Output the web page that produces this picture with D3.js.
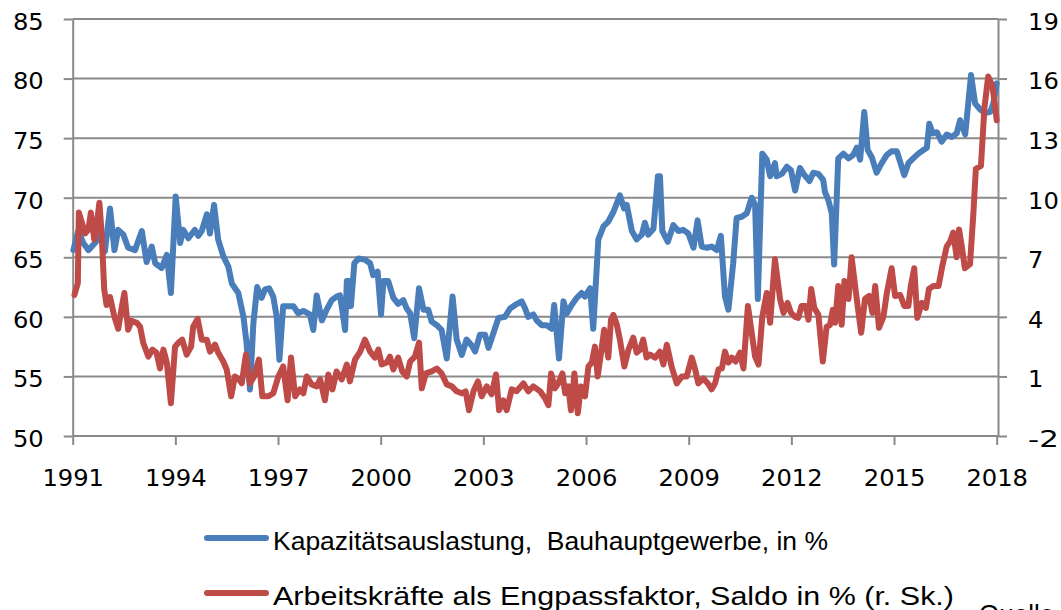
<!DOCTYPE html>
<html>
<head>
<meta charset="utf-8">
<script src="https://cdn.jsdelivr.net/npm/d3@7"></script>
<style>
  body { margin: 0; background: #fff; }
</style>
</head>
<body>
<script>
// Kapazitätsauslastung, Bauhauptgewerbe (left scale, %)
var blueYears = [1991.02,1991.16,1991.31,1991.46,1991.65,1991.80,1991.94,1992.09,1992.22,1992.33,1992.48,1992.62,1992.82,1993.02,1993.16,1993.31,1993.41,1993.60,1993.75,1993.87,1994.01,1994.14,1994.23,1994.38,1994.57,1994.67,1994.77,1994.92,1995.01,1995.13,1995.25,1995.40,1995.55,1995.65,1995.84,1995.99,1996.08,1996.18,1996.28,1996.39,1996.52,1996.62,1996.74,1996.86,1996.96,1997.04,1997.15,1997.30,1997.45,1997.59,1997.74,1997.93,1998.03,1998.13,1998.28,1998.42,1998.57,1998.71,1998.81,1998.86,1998.96,1999.01,1999.07,1999.13,1999.23,1999.35,1999.54,1999.69,1999.78,1999.91,2000.01,2000.08,2000.22,2000.37,2000.51,2000.66,2000.76,2000.86,2000.98,2001.12,2001.25,2001.39,2001.49,2001.64,2001.78,2001.93,2002.10,2002.22,2002.37,2002.51,2002.66,2002.76,2002.90,2003.05,2003.15,2003.29,2003.44,2003.63,2003.78,2003.93,2004.12,2004.22,2004.31,2004.46,2004.56,2004.71,2004.85,2005.00,2005.07,2005.21,2005.34,2005.44,2005.58,2005.73,2005.87,2005.97,2006.12,2006.21,2006.36,2006.51,2006.65,2006.80,2006.99,2007.11,2007.19,2007.34,2007.48,2007.63,2007.72,2007.82,2007.97,2008.10,2008.16,2008.23,2008.39,2008.55,2008.70,2008.84,2008.99,2009.14,2009.26,2009.38,2009.53,2009.67,2009.82,2009.94,2010.06,2010.16,2010.30,2010.40,2010.55,2010.70,2010.84,2010.94,2011.02,2011.15,2011.28,2011.38,2011.52,2011.57,2011.72,2011.87,2011.99,2012.11,2012.25,2012.38,2012.53,2012.64,2012.79,2012.93,2012.98,2013.08,2013.18,2013.25,2013.37,2013.52,2013.67,2013.81,2013.91,2014.01,2014.13,2014.23,2014.35,2014.49,2014.64,2014.79,2014.93,2015.08,2015.18,2015.30,2015.42,2015.56,2015.71,2015.86,2015.96,2016.03,2016.13,2016.25,2016.39,2016.54,2016.69,2016.83,2016.93,2017.08,2017.25,2017.37,2017.52,2017.66,2017.81,2017.90,2018.00];
var blueValues = [65.6,67.2,66.2,65.6,66.2,66.8,65.5,69.1,65.6,67.3,66.9,65.8,65.6,67.2,64.6,65.9,64.5,64.1,65.2,62.0,70.1,66.2,67.3,66.6,67.3,66.8,67.2,68.6,67.0,69.4,66.5,65.1,64.2,62.8,62.0,60.0,57.8,53.9,59.5,62.5,61.6,62.3,62.4,61.7,60.0,56.4,60.9,60.9,60.9,60.3,60.5,60.2,58.9,61.8,59.7,60.6,61.4,61.7,61.8,60.9,58.9,63.0,63.0,60.9,64.5,64.9,64.8,64.5,63.5,63.8,60.2,63.0,63.0,61.6,61.1,61.4,60.7,60.3,58.2,62.4,60.6,60.6,59.6,59.3,58.9,56.5,61.7,58.1,56.8,58.1,57.6,57.1,58.5,58.5,57.4,58.6,59.9,60.0,60.7,61.0,61.3,60.7,60.0,60.2,59.7,59.3,59.3,59.0,61.0,56.5,61.3,60.3,61.0,61.6,62.0,61.7,62.4,59.0,66.5,67.6,68.0,68.8,70.2,69.1,69.4,67.2,66.5,66.9,67.9,66.9,67.4,71.8,71.8,67.2,66.3,67.7,67.2,67.3,67.0,65.8,68.1,65.9,65.8,65.9,65.6,66.8,61.7,60.6,64.5,68.3,68.4,68.7,70.0,69.4,61.5,73.7,73.2,71.8,72.9,71.8,72.0,72.6,72.3,70.6,72.5,71.9,71.4,72.1,72.0,71.5,70.5,69.8,68.7,64.4,73.3,73.7,73.3,73.6,74.2,73.2,77.2,74.0,73.4,72.1,72.9,73.6,73.9,73.9,73.0,71.9,72.9,73.3,73.7,74.0,74.2,76.2,75.4,75.5,74.7,75.3,75.1,75.4,76.5,75.3,80.3,77.9,77.4,77.1,77.2,77.9,79.6];

// Arbeitskräfte als Engpassfaktor, Saldo (right scale, %)
var redYears = [1991.05,1991.15,1991.18,1991.26,1991.36,1991.46,1991.53,1991.63,1991.70,1991.78,1991.85,1991.92,1991.99,1992.09,1992.22,1992.33,1992.43,1992.51,1992.62,1992.72,1992.87,1992.97,1993.06,1993.21,1993.33,1993.45,1993.55,1993.65,1993.75,1993.87,1993.99,1994.09,1994.20,1994.33,1994.46,1994.52,1994.65,1994.77,1994.92,1995.01,1995.16,1995.25,1995.40,1995.50,1995.63,1995.74,1995.86,1995.94,1996.06,1996.18,1996.30,1996.44,1996.54,1996.72,1996.86,1997.01,1997.15,1997.28,1997.38,1997.50,1997.64,1997.74,1997.84,1997.98,1998.13,1998.23,1998.37,1998.47,1998.59,1998.71,1998.86,1999.01,1999.10,1999.25,1999.40,1999.54,1999.69,1999.83,1999.93,2000.03,2000.18,2000.27,2000.37,2000.51,2000.63,2000.76,2000.86,2001.00,2001.12,2001.20,2001.32,2001.49,2001.64,2001.78,2001.93,2002.08,2002.22,2002.37,2002.48,2002.58,2002.71,2002.84,2002.95,2003.10,2003.24,2003.37,2003.46,2003.58,2003.68,2003.83,2003.97,2004.17,2004.31,2004.46,2004.66,2004.80,2004.90,2004.98,2005.09,2005.19,2005.31,2005.39,2005.48,2005.56,2005.66,2005.76,2005.85,2005.97,2006.07,2006.17,2006.26,2006.34,2006.44,2006.53,2006.65,2006.73,2006.80,2006.90,2006.99,2007.12,2007.24,2007.38,2007.48,2007.58,2007.67,2007.77,2007.87,2008.02,2008.16,2008.26,2008.36,2008.50,2008.65,2008.80,2008.94,2009.09,2009.19,2009.28,2009.43,2009.56,2009.67,2009.77,2009.87,2009.97,2010.06,2010.16,2010.26,2010.37,2010.50,2010.60,2010.73,2010.84,2010.94,2011.04,2011.15,2011.28,2011.38,2011.52,2011.67,2011.77,2011.89,2011.99,2012.11,2012.20,2012.30,2012.42,2012.50,2012.58,2012.67,2012.79,2012.92,2013.03,2013.13,2013.21,2013.28,2013.37,2013.47,2013.55,2013.67,2013.76,2013.91,2014.04,2014.15,2014.27,2014.37,2014.45,2014.56,2014.69,2014.79,2014.93,2015.03,2015.18,2015.30,2015.42,2015.49,2015.59,2015.68,2015.81,2015.93,2016.02,2016.15,2016.30,2016.41,2016.54,2016.64,2016.73,2016.83,2016.90,2016.98,2017.07,2017.22,2017.32,2017.39,2017.54,2017.64,2017.75,2017.87,2017.94,2018.00];
var redValues = [5.1,5.7,9.25,8.8,8.2,8.4,9.25,7.9,8.6,9.75,8.1,5.4,4.6,5.0,4.0,3.4,4.45,5.2,3.35,3.8,3.7,3.5,2.7,2.0,2.35,2.2,1.4,2.35,1.7,-0.35,2.5,2.7,2.85,2.1,2.5,3.5,3.9,2.85,2.85,2.25,2.6,2.2,1.75,1.35,0.0,1.0,0.85,0.65,2.1,0.65,1.0,1.85,0.0,0.0,0.15,1.0,1.5,-0.2,1.95,0.0,0.35,0.15,1.0,0.6,0.5,0.85,-0.2,1.1,0.35,1.25,0.85,1.6,0.75,1.85,2.25,2.85,2.25,1.95,2.35,1.6,1.7,2.0,1.35,1.95,1.25,1.0,1.75,2.0,2.7,0.4,1.15,1.25,1.4,1.15,0.6,0.5,0.25,0.15,0.25,-0.7,0.25,0.75,0.0,0.5,0.1,1.1,-0.7,-0.2,-0.7,0.35,0.25,0.65,0.25,0.5,0.25,-0.1,-0.45,1.15,0.4,0.65,1.15,0.15,0.5,-0.7,1.15,-0.85,0.5,0.0,1.5,1.7,2.5,1.0,2.2,3.35,1.95,3.85,4.1,3.6,2.85,1.5,2.35,2.95,2.2,2.35,2.85,1.95,2.1,1.95,2.25,1.6,2.6,1.5,0.65,1.0,1.0,1.95,1.35,0.65,0.9,0.65,0.35,0.65,1.35,1.4,2.25,1.7,1.95,1.75,2.2,1.4,4.55,3.2,2.0,1.6,4.0,5.2,3.7,6.9,4.9,4.2,4.7,4.2,4.0,3.95,4.55,4.55,3.85,5.4,4.45,4.1,1.75,3.5,3.6,4.35,3.7,5.55,3.6,5.8,4.9,7.0,4.9,3.2,4.9,5.05,4.2,5.55,3.45,4.0,5.2,6.45,5.05,5.1,4.55,4.55,5.55,6.45,3.95,4.7,4.45,5.4,5.55,5.55,6.55,7.55,7.8,8.25,7.0,8.4,7.55,6.45,6.65,9.25,11.45,11.6,14.5,16.1,15.65,14.8,13.9];

// tick labels
var leftTicks = [50, 55, 60, 65, 70, 75, 80, 85];
var rightTicks = [-2, 1, 4, 7, 10, 13, 16, 19];
var yearTicks = [1991, 1994, 1997, 2000, 2003, 2006, 2009, 2012, 2015, 2018];

var legendLabels = ["Kapazitätsauslastung,  Bauhauptgewerbe, in %",
                    "Arbeitskräfte als Engpassfaktor, Saldo in % (r. Sk.)"];
var colors = ["#4a7ebb", "#be4b48"];

var width = 1061, height = 610;
var plot = {left: 72.7, right: 998, top: 19, bottom: 436};

var svg = d3.select("body")
  .append("svg")
  .attr("width", width)
  .attr("height", height)
  .style("display", "block");

svg.append("rect").attr("width", width).attr("height", height).attr("fill", "#fff");

var x = d3.scaleLinear().domain([1991, 2018]).range([plot.left, 996.7]);
var yL = d3.scaleLinear().domain([50, 85]).range([plot.bottom, plot.top]);
var yR = d3.scaleLinear().domain([-2, 19]).range([plot.bottom, plot.top]);

var gridColor = "#8a8a8a";
var tickFont = "'DejaVu Sans', sans-serif";

// horizontal grid
svg.append("g")
  .selectAll("line")
  .data(leftTicks)
  .join("line")
  .attr("x1", plot.left)
  .attr("x2", plot.right)
  .attr("y1", d => yL(d))
  .attr("y2", d => yL(d))
  .attr("stroke", gridColor)
  .attr("stroke-width", 2);

// axes
function styleAxis(g) {
  g.attr("font-family", tickFont).attr("font-size", 23);
  g.selectAll("line").attr("stroke", gridColor).attr("stroke-width", 2);
  g.select(".domain").attr("stroke", gridColor).attr("stroke-width", 2);
  g.selectAll("text").attr("fill", "#000")
    .attr("textLength", function () { return this.textContent.length * 15.4; })
    .attr("lengthAdjust", "spacingAndGlyphs");
}

var plain = d => String(d);

var axL = svg.append("g")
  .attr("transform", "translate(" + plot.left + ",0)")
  .call(d3.axisLeft(yL).tickValues(leftTicks).tickFormat(plain).tickSize(9).tickSizeOuter(0).tickPadding(20))
  .call(styleAxis);
axL.selectAll("text").attr("dy", "0.45em");

var axR = svg.append("g")
  .attr("transform", "translate(" + plot.right + ",0)")
  .call(d3.axisRight(yR).tickValues(rightTicks).tickFormat(plain).tickSize(9).tickSizeOuter(0).tickPadding(21))
  .call(styleAxis);
axR.selectAll("text").attr("dy", "0.45em");

var axB = svg.append("g")
  .attr("transform", "translate(0," + plot.bottom + ")")
  .call(d3.axisBottom(x).tickValues(yearTicks).tickFormat(plain).tickSize(9).tickSizeOuter(0).tickPadding(25))
  .call(styleAxis);
axB.select(".domain").remove();

// series
var line = function (yScale) {
  return d3.line()
    .x(d => x(d[0]))
    .y(d => yScale(d[1]));
};

svg.append("path")
  .datum(d3.zip(blueYears, blueValues))
  .attr("fill", "none")
  .attr("stroke", colors[0])
  .attr("stroke-width", 6)
  .attr("stroke-linejoin", "round")
  .attr("stroke-linecap", "round")
  .attr("d", line(yL));

svg.append("path")
  .datum(d3.zip(redYears, redValues))
  .attr("fill", "none")
  .attr("stroke", colors[1])
  .attr("stroke-width", 6)
  .attr("stroke-linejoin", "round")
  .attr("stroke-linecap", "round")
  .attr("d", line(yR));

// legend
var legendY = [538, 593];
var legendW = [555, 681];
var legend = svg.append("g");
legendLabels.forEach(function (label, i) {
  legend.append("line")
    .attr("x1", 207).attr("x2", 266)
    .attr("y1", legendY[i]).attr("y2", legendY[i])
    .attr("stroke", colors[i])
    .attr("stroke-width", 6)
    .attr("stroke-linecap", "round");
  legend.append("text")
    .attr("x", 273)
    .attr("y", legendY[i] + 12)
    .attr("font-family", "'Liberation Sans', Arial, sans-serif")
    .attr("font-size", 26)
    .attr("textLength", legendW[i])
    .attr("lengthAdjust", "spacingAndGlyphs")
    .attr("xml:space", "preserve")
    .style("white-space", "pre")
    .text(label);
});

// source note, clipped at the bottom edge as in the original
svg.append("text")
  .attr("x", 979)
  .attr("y", 623)
  .attr("font-family", "'Liberation Sans', Arial, sans-serif")
  .attr("font-size", 26)
  .text("Quelle");
</script>
</body>
</html>
